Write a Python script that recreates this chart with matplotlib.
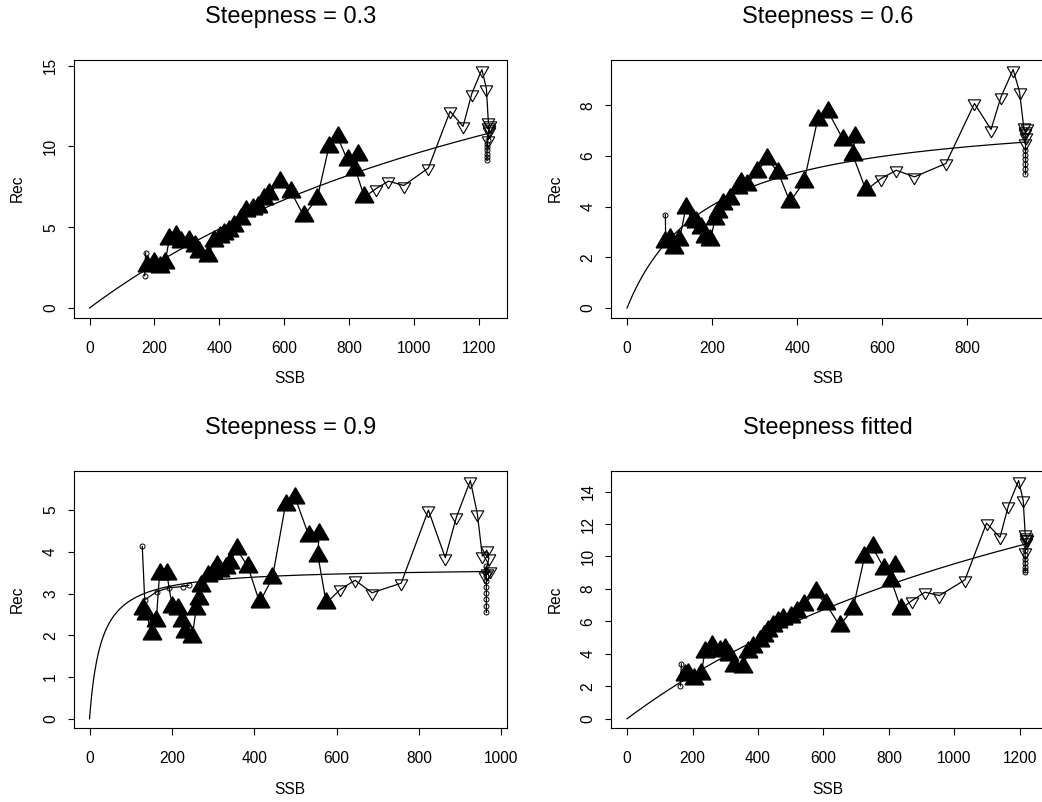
import matplotlib
matplotlib.use("Agg")
import matplotlib.pyplot as plt
import numpy as np

W, H, DPI = 1042, 802, 100

# ---------------- data ----------------
titles = ["Steepness = 0.3", "Steepness = 0.6", "Steepness = 0.9", "Steepness fitted"]
steepness = [0.3, 0.6, 0.9, 0.3]
curve_end_ssb = [1238, 944, 975, 1226]
curve_end_rec = [10.85, 6.56, 3.53, 10.81]

x_ticks = [[0, 200, 400, 600, 800, 1000, 1200],
           [0, 200, 400, 600, 800],
           [0, 200, 400, 600, 800, 1000],
           [0, 200, 400, 600, 800, 1000, 1200]]
y_ticks = [[0, 5, 10, 15],
           [0, 2, 4, 6, 8],
           [0, 1, 2, 3, 4, 5],
           [0, 2, 4, 6, 8, 10, 12, 14]]

# panel 1
hist1_ssb = [178, 198, 216, 233, 246, 267, 283, 308, 324, 339, 365, 385, 401, 416, 431, 447,
             468, 483, 503, 519, 539, 555, 586, 622, 660, 702, 738, 765, 796, 827, 820, 848]
hist1_rec = [2.60, 2.78, 2.52, 2.80, 4.28, 4.48, 4.07, 4.17, 3.86, 3.45, 3.24, 4.17, 4.38, 4.59,
             4.79, 5.10, 5.52, 6.03, 6.14, 6.24, 6.76, 7.07, 7.79, 7.17, 5.72, 6.76, 9.96, 10.58,
             9.13, 9.44, 8.55, 6.86]
proj1_ssb = [883, 922, 969, 1045, 1112, 1152, 1179, 1210, 1224, 1230, 1234, 1229, 1232, 1229, 1231]
proj1_rec = [7.38, 7.85, 7.58, 8.66, 12.17, 11.24, 13.27, 14.76, 13.58, 11.51, 11.35, 11.2,
             11.05, 10.40, 10.95]
circA1_ssb = [173, 170]
circA1_rec = [3.41, 2.00]
circB1_ssb = [1228, 1227, 1227, 1226, 1226, 1226, 1226]
circB1_rec = [10.4, 10.15, 9.95, 9.75, 9.55, 9.35, 9.13]

# panel 2
hist2_ssb = [89, 101, 111, 123, 138, 154, 163, 173, 183, 196, 207, 214, 225, 242, 262, 267,
             281, 305, 330, 356, 383, 416, 448, 473, 509, 536, 531, 562]
hist2_rec = [2.61, 2.74, 2.38, 2.67, 3.93, 3.47, 3.40, 3.14, 2.81, 2.67, 3.53, 3.80, 4.12, 4.32,
             4.72, 4.92, 4.85, 5.38, 5.90, 5.34, 4.19, 4.98, 7.42, 7.75, 6.63, 6.76, 6.04, 4.65]
proj2_ssb = [597, 633, 676, 750, 817, 856, 879, 908, 923, 933, 937, 941, 935, 938, 936]
proj2_rec = [5.11, 5.44, 5.18, 5.71, 8.08, 7.05, 8.32, 9.42, 8.54, 7.13, 7.00, 7.10, 6.90,
             6.76, 6.50]
circA2_ssb = [90, 91]
circA2_rec = [3.69, 2.62]
circB2_ssb = [936, 936, 936, 936, 936, 936]
circB2_rec = [6.23, 6.05, 5.87, 5.68, 5.50, 5.31]

# panel 3
hist3_ssb = [131, 138, 152, 162, 170, 188, 201, 215, 225, 233, 249, 259, 266, 271, 288, 300,
             309, 317, 332, 340, 358, 385, 413, 444, 476, 500, 533, 557, 555, 575]
hist3_rec = [2.63, 2.51, 2.03, 2.35, 3.46, 3.46, 2.67, 2.63, 2.35, 2.07, 1.95, 2.63, 2.87, 3.18,
             3.42, 3.50, 3.66, 3.55, 3.62, 3.74, 4.06, 3.64, 2.79, 3.37, 5.13, 5.28, 4.38, 4.42,
             3.90, 2.77]
proj3_ssb = [609, 645, 686, 757, 823, 864, 891, 925, 942, 954, 965, 970, 960, 972, 966]
proj3_rec = [3.10, 3.32, 3.02, 3.25, 5.00, 3.86, 4.83, 5.71, 4.91, 3.90, 4.04, 3.85, 3.42,
             3.55, 3.50]
circA3_ssb = [128, 134, 164, 194, 226, 241]
circA3_rec = [4.13, 2.85, 3.05, 3.14, 3.17, 3.20]
circB3_ssb = [964, 964, 964, 964, 964, 964, 964, 964, 964]
circB3_rec = [3.66, 3.54, 3.42, 3.30, 3.17, 3.02, 2.86, 2.70, 2.55]

# panel 4
hist4_ssb = [176, 186, 206, 227, 237, 260, 283, 298, 311, 328, 354, 369, 384, 405, 418, 430,
             446, 461, 476, 502, 520, 539, 576, 608, 649, 690, 725, 750, 786, 817, 807, 837]
hist4_rec = [2.70, 2.76, 2.45, 2.76, 4.09, 4.50, 4.16, 4.30, 3.90, 3.27, 3.17, 4.09, 4.40, 4.82,
             5.10, 5.43, 5.70, 5.94, 6.15, 6.25, 6.60, 7.03, 7.80, 7.07, 5.74, 6.77, 9.95, 10.57,
             9.23, 9.44, 8.51, 6.77]
proj4_ssb = [870, 910, 954, 1032, 1098, 1139, 1165, 1196, 1210, 1216, 1220, 1218, 1221, 1216, 1219]
proj4_rec = [7.28, 7.80, 7.59, 8.56, 12.05, 11.18, 13.14, 14.68, 13.45, 11.39, 11.20, 11.05,
             11.10, 10.30, 10.90]
circA4_ssb = [166, 163]
circA4_rec = [3.38, 2.04]
circB4_ssb = [1216, 1216, 1216, 1216, 1216, 1216, 1216]
circB4_rec = [10.40, 10.10, 9.85, 9.60, 9.35, 9.15, 9.03]

panels = [
    (hist1_ssb, hist1_rec, proj1_ssb, proj1_rec, circA1_ssb, circA1_rec, circB1_ssb, circB1_rec),
    (hist2_ssb, hist2_rec, proj2_ssb, proj2_rec, circA2_ssb, circA2_rec, circB2_ssb, circB2_rec),
    (hist3_ssb, hist3_rec, proj3_ssb, proj3_rec, circA3_ssb, circA3_rec, circB3_ssb, circB3_rec),
    (hist4_ssb, hist4_rec, proj4_ssb, proj4_rec, circA4_ssb, circA4_rec, circB4_ssb, circB4_rec),
]

# ---------------- layout (pixels) ----------------
plt.rcParams['font.family'] = ['Liberation Sans', 'DejaVu Sans']
fig = plt.figure(figsize=(W / DPI, H / DPI), dpi=DPI)

box_left = [73.5, 611, 73.5, 611]
box_top = [60, 60, 471, 471]
box_w = 433.5
box_h = [257.5, 257.5, 257.3, 257.3]

TICK_FS = 11.2
TITLE_FS = 17


def px(v):  # pixels -> points
    return v * 72.0 / DPI


for i in range(4):
    l, t, h = box_left[i], box_top[i], box_h[i]
    ax = fig.add_axes([l / W, 1 - (t + h) / H, box_w / W, h / H])
    hs, hr, ps, pr, cas, car, cbs, cbr = panels[i]

    # stock-recruitment (Beverton-Holt) curve with the panel's steepness
    hh = steepness[i]
    s0, r0 = curve_end_ssb[i], curve_end_rec[i]
    s = np.linspace(0, s0, 400)
    r = 4 * hh * r0 * s / (s0 * (1 - hh) + s * (5 * hh - 1))
    ax.plot(s, r, color='black', lw=0.9, zorder=2)

    # trajectory lines
    ax.plot(list(hs) + list(ps), list(hr) + list(pr), color='black', lw=0.9, zorder=2)
    ax.plot(cas, car, color='black', lw=0.9, marker='o', ms=3.6, mfc='none',
            mec='black', mew=0.7, zorder=3)
    ax.plot([ps[-1]] + list(cbs), [pr[-1]] + list(cbr), color='black', lw=0.9, zorder=2)
    ax.plot(cbs, cbr, ls='none', marker='o', ms=3.6, mfc='none', mec='black',
            mew=0.7, zorder=3)

    # markers
    ax.plot(hs, hr, ls='none', marker=(3, 0, 0), ms=15.5, color='black', zorder=4)
    ax.plot(ps, pr, ls='none', marker=(3, 0, 180), ms=10.5, mfc='none', mec='black',
            mew=0.8, zorder=4)

    # R-style 4% axis extension
    allx = [0] + list(s) + list(hs) + list(ps) + list(cas) + list(cbs)
    ally = [0] + list(r) + list(hr) + list(pr) + list(car) + list(cbr)
    x0, x1 = min(allx), max(allx)
    y0, y1 = min(ally), max(ally)
    ax.set_xlim(x0 - 0.04 * (x1 - x0), x1 + 0.04 * (x1 - x0))
    ax.set_ylim(y0 - 0.04 * (y1 - y0), y1 + 0.04 * (y1 - y0))

    ax.set_xticks(x_ticks[i])
    ax.set_yticks(y_ticks[i])
    ax.set_xticklabels([str(v) for v in x_ticks[i]], fontsize=TICK_FS)
    ax.set_yticklabels([str(v) for v in y_ticks[i]], fontsize=TICK_FS,
                       rotation=90, va='center')
    ax.tick_params(axis='both', direction='out', length=px(6.5), width=0.8,
                   color='black', top=False, right=False)
    ax.tick_params(axis='x', pad=px(16.5))
    ax.tick_params(axis='y', pad=px(9))
    for sp in ax.spines.values():
        sp.set_linewidth(0.8)
        sp.set_color('black')

    cx = l + box_w / 2
    fig.text(cx / W, 1 - (t - 37) / H, titles[i], ha='center', va='baseline',
             fontsize=TITLE_FS)
    fig.text(cx / W, 1 - (t + h + 61) / H, "SSB", ha='center', va='center',
             fontsize=TICK_FS)
    fig.text((l - 56) / W, 1 - (t + h / 2) / H, "Rec", ha='center', va='center',
             rotation=90, fontsize=TICK_FS)

fig.savefig("out.png", dpi=DPI)
